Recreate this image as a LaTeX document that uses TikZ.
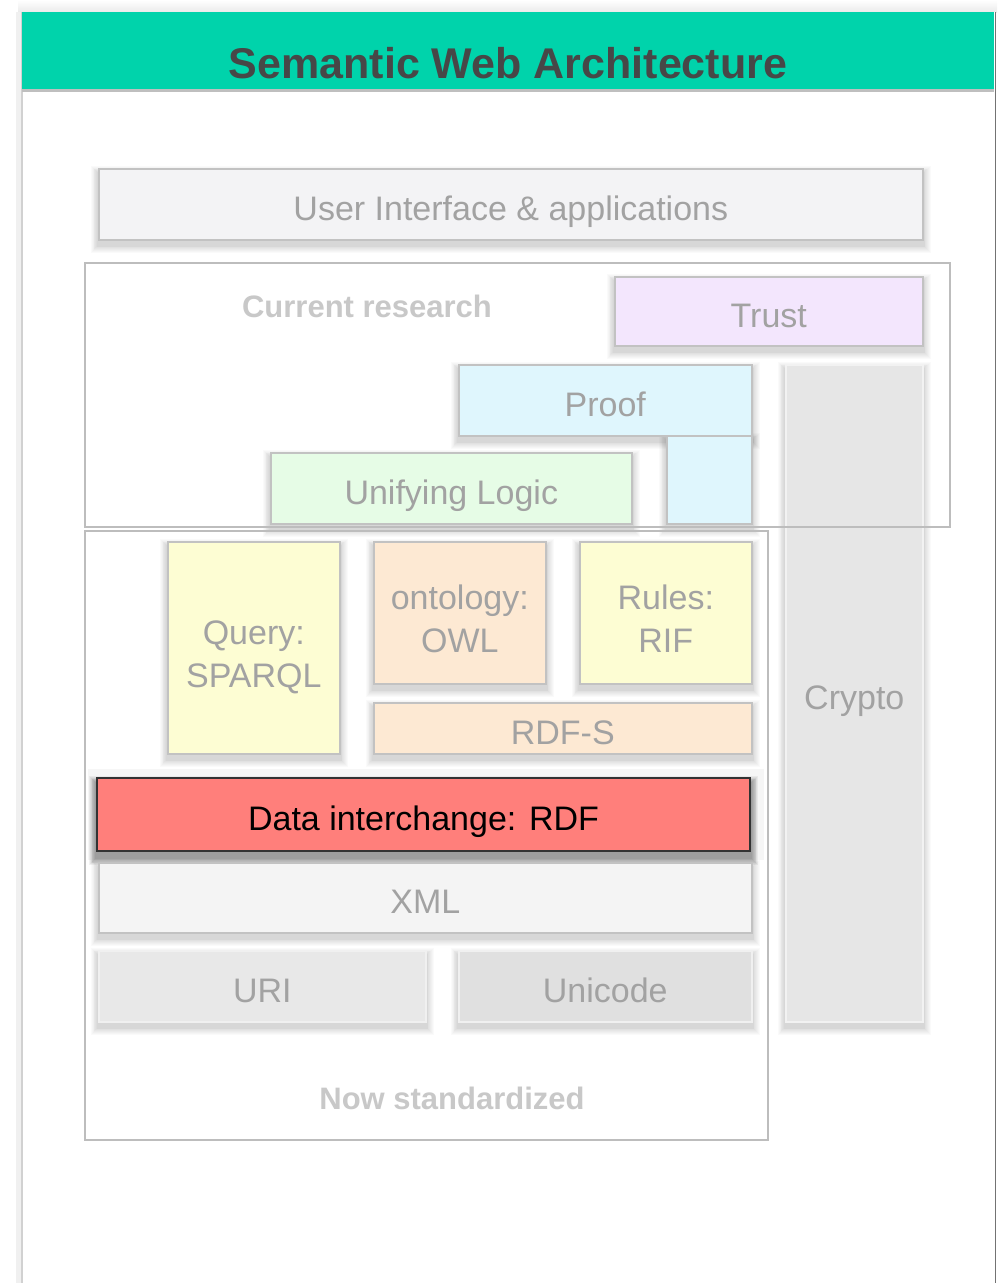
\documentclass[tikz,border=0pt]{standalone}
\usepackage{fontspec}
\setmainfont{Liberation Sans}
\usetikzlibrary{calc}
\definecolor{hdrteal}{HTML}{00D3AB}
\definecolor{titlegray}{HTML}{474747}
\definecolor{boxborder}{HTML}{C2C2C2}
\definecolor{txtgray}{HTML}{A2A2A2}
\definecolor{framegray}{HTML}{BDBDBD}
\definecolor{labelgray}{HTML}{C8C8C8}
\definecolor{uifill}{HTML}{F3F3F5}
\definecolor{trustfill}{HTML}{F3E6FD}
\definecolor{prooffill}{HTML}{DFF6FD}
\definecolor{logicfill}{HTML}{E6FCE6}
\definecolor{cryptofill}{HTML}{E6E6E6}
\definecolor{yellowfill}{HTML}{FDFDD3}
\definecolor{peachfill}{HTML}{FDE9D3}
\definecolor{rdffill}{HTML}{FF7F7B}
\definecolor{rdfborder}{HTML}{333333}
\definecolor{xmlfill}{HTML}{F4F4F4}
\definecolor{urifill}{HTML}{E8E8E8}
\definecolor{unifill}{HTML}{E0E0E0}
\definecolor{backdrop}{HTML}{F6F6F6}
\pgfdeclarelayer{pagebg}
\pgfdeclarelayer{shade}
\pgfsetlayers{pagebg,shade,main}
\newcommand{\twolines}[2]{\raisebox{-9.5pt}[\height][\depth]{\begin{tabular}{@{}c@{}}#1\\#2\end{tabular}}}
\begin{document}
\begin{tikzpicture}[x=1pt,y=-1pt,
  layerbox/.style={draw=boxborder, line width=1.6pt, inner sep=0pt, anchor=north west,
    text=txtgray, font=\fontsize{34}{43}\selectfont, text height=32pt, text depth=0pt},
  twoline/.style={text height=, text depth=},
  frame/.style={draw=framegray, line width=1.8pt},
  framelabel/.style={text=labelgray, font=\bfseries\fontsize{31}{36}\selectfont, inner sep=0pt}
]
\begin{pgfonlayer}{pagebg}
\useasboundingbox (0,0) rectangle (997,1283);
\fill[white] (0,0) rectangle (997,1283);
\shade[top color=white, bottom color=black!8] (18,0) rectangle (997,12);
\fill[black!6] (16,12) rectangle (22,1283);
\fill[white] (22,12) rectangle (995,1283);
\draw[black!18, line width=1.5pt] (22,12) -- (22,1283);
\draw[black!55, line width=1.6pt] (995.5,12) -- (995.5,1283);
\fill[black!25] (22,89) rectangle (994,92);
\fill[backdrop] (88,769) rectangle (764,860);
\end{pgfonlayer}

% header
\node[fill=hdrteal, minimum width=972pt, minimum height=77pt, inner sep=0pt, anchor=north west] (header) at (22,12) {};
\node[text=titlegray, font=\bfseries\fontsize{43}{48}\selectfont, anchor=base, inner sep=0pt] (title) at (508,78) {Semantic Web Architecture};

% boxes
\node[layerbox, fill=uifill, minimum width=824pt, minimum height=71pt] (ui) at (98,168) {User Interface \& applications};
\node[layerbox, fill=trustfill, minimum width=308pt, minimum height=69pt] (trust) at (614,276) {Trust};
\node[layerbox, fill=cryptofill, draw=black!5, minimum width=137pt, minimum height=657pt] (crypto) at (785,364) {Crypto};
\node[layerbox, fill=prooffill, minimum width=85pt, minimum height=88pt] (proofext) at (666,435) {};
\node[layerbox, fill=prooffill, minimum width=293pt, minimum height=71pt] (proof) at (458,364) {Proof};
\node[layerbox, fill=logicfill, minimum width=361pt, minimum height=71pt] (logic) at (270,452) {Unifying Logic};
\node[layerbox, twoline, fill=yellowfill, minimum width=172pt, minimum height=212pt] (query) at (167,541) {\twolines{Query:}{SPARQL}};
\node[layerbox, twoline, fill=peachfill, minimum width=172pt, minimum height=142pt] (owl) at (373,541) {\twolines{ontology:}{OWL}};
\node[layerbox, twoline, fill=yellowfill, minimum width=172pt, minimum height=142pt] (rif) at (579,541) {\twolines{Rules:}{RIF}};
\node[layerbox, fill=peachfill, minimum width=378pt, minimum height=51pt] (rdfs) at (373,702) {RDF-S};
\node[layerbox, fill=rdffill, draw=rdfborder, line width=2pt, text=black, minimum width=653pt, minimum height=73pt] (rdf) at (96,777) {Data interchange: RDF};
\node[layerbox, fill=xmlfill, minimum width=653pt, minimum height=70pt] (xml) at (98,862) {XML};
\node[layerbox, fill=urifill, draw=black!6, minimum width=327pt, minimum height=71pt] (uri) at (98,950) {URI};
\node[layerbox, fill=unifill, draw=black!6, minimum width=293pt, minimum height=71pt] (unicode) at (458,950) {Unicode};

% soft shadows
\begin{pgfonlayer}{shade}
\foreach \n in {ui,trust,crypto,proofext,proof,logic,query,owl,rif,rdfs,xml,uri,unicode}{
  \foreach \i in {1,...,8}{
    \fill[black, opacity=0.018] ($(\n.north west)+(-\i*0.9,5-\i*0.9)$) rectangle ($(\n.south east)+(\i*0.9,5+\i*0.9)$);
  }
}
\foreach \i in {1,...,8}{
  \fill[black, opacity=0.05] ($(rdf.north west)+(-\i*0.9,6-\i*0.9)$) rectangle ($(rdf.south east)+(\i*0.9,6+\i*0.9)$);
}
\end{pgfonlayer}

% frames
\draw[frame] (85,263) rectangle (950,527);
\draw[frame] (85,531) rectangle (768,1140);
\node[framelabel, anchor=base] (research) at (367,317) {Current research};
\node[framelabel, anchor=base] (standard) at (452,1109) {Now standardized};
\end{tikzpicture}
\end{document}
